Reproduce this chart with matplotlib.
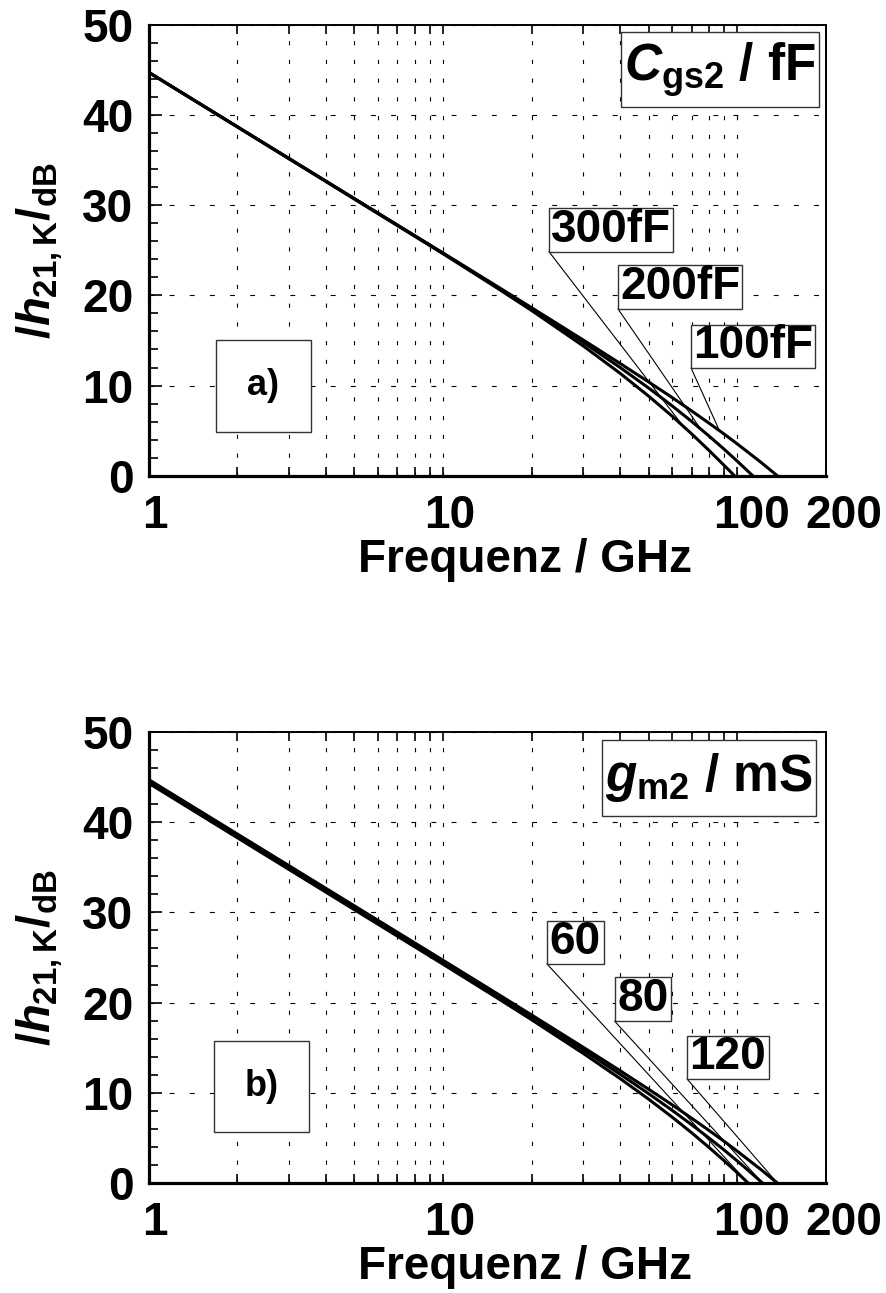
import numpy as np
import matplotlib
matplotlib.use('Agg')
import matplotlib.pyplot as plt
from matplotlib.patches import Rectangle
from matplotlib.ticker import FixedLocator, NullFormatter, MultipleLocator
import matplotlib.transforms as mtransforms

plt.rcParams['font.family'] = ['Liberation Sans', 'DejaVu Sans']
plt.rcParams['font.weight'] = 'bold'
plt.rcParams['mathtext.fontset'] = 'custom'
plt.rcParams['mathtext.rm'] = 'Liberation Sans:bold'
plt.rcParams['mathtext.it'] = 'Liberation Sans:bold:italic'
plt.rcParams['mathtext.bf'] = 'Liberation Sans:bold'
plt.rcParams['lines.scale_dashes'] = False

# panel a) : Cgs2 variation  (|h21| in dB vs GHz)
f_300 = [1, 10, 15, 20, 30, 40, 50, 60, 70, 80, 90, 98]
h_300 = [44.7, 24.61, 20.97, 18.32, 14.38, 11.36, 8.83, 6.63, 4.65, 2.85, 1.2, 0.0]
f_200 = [1, 10, 15, 20, 30, 40, 50, 60, 70, 80, 90, 100, 113]
h_200 = [44.7, 24.66, 21.08, 18.5, 14.78, 12.0, 9.73, 7.77, 6.03, 4.44, 2.99, 1.63, 0.0]
f_100 = [1, 10, 15, 20, 30, 40, 50, 60, 70, 80, 90, 100, 120, 137]
h_100 = [44.7, 24.69, 21.15, 18.63, 15.04, 12.45, 10.4, 8.69, 7.19, 5.86, 4.66, 3.54, 1.54, 0.0]

# panel b) : gm2 variation
f_60 = [1, 10, 15, 20, 30, 40, 50, 60, 70, 80, 90, 100, 109]
h_60 = [44.3, 24.25, 20.68, 18.1, 14.36, 11.58, 9.3, 7.33, 5.58, 3.98, 2.52, 1.15, 0.0]
f_80 = [1, 10, 15, 20, 30, 40, 50, 60, 70, 80, 90, 100, 110, 122]
h_80 = [44.5, 24.47, 20.92, 18.38, 14.73, 12.06, 9.91, 8.08, 6.47, 5.02, 3.7, 2.46, 1.3, 0.0]
f_120 = [1, 10, 15, 20, 30, 40, 50, 60, 70, 80, 90, 100, 120, 137]
h_120 = [44.7, 24.69, 21.15, 18.63, 15.04, 12.45, 10.4, 8.69, 7.19, 5.86, 4.66, 3.54, 1.54, 0.0]

labels_a = ['300fF', '200fF', '100fF']
labels_b = ['60', '80', '120']

x_major = [1, 10, 100, 200]
x_major_labels = ['1', '10', '100', '200']
x_minor = [2, 3, 4, 5, 6, 7, 8, 9, 20, 30, 40, 50, 60, 70, 80, 90]


def f_at(f, h, level):
    # frequency where a curve reaches a given level (log interpolation)
    return 10 ** np.interp(level, h[::-1], np.log10(f)[::-1])


def setup_axes(ax):
    ax.set_xscale('log')
    ax.set_xlim(1, 200)
    ax.set_ylim(0, 50)
    ax.xaxis.set_major_locator(FixedLocator(x_major))
    ax.set_xticklabels(x_major_labels)
    ax.xaxis.set_minor_locator(FixedLocator(x_minor))
    ax.xaxis.set_minor_formatter(NullFormatter())
    ax.yaxis.set_major_locator(MultipleLocator(10))
    ax.yaxis.set_minor_locator(MultipleLocator(2))
    ax.tick_params(axis='x', which='both', direction='in', top=True, bottom=True,
                   length=6.5, width=1.2, labelsize=33, pad=13)
    ax.tick_params(axis='y', which='major', direction='in', left=True, right=False,
                   length=9, width=1.2, labelsize=33, pad=11)
    ax.tick_params(axis='y', which='minor', direction='in', left=True, right=False,
                   length=6.5, width=1.2)
    for lab in ax.get_xticklabels() + ax.get_yticklabels():
        lab.set_fontweight('bold')
    # nudge the x tick labels like in the original
    offs = {'1': 6, '10': 7, '100': 14, '200': 18}
    for lab in ax.get_xticklabels():
        dx = offs.get(lab.get_text(), 0)
        lab.set_transform(lab.get_transform() +
                          mtransforms.ScaledTranslation(dx / 100, 0, ax.figure.dpi_scale_trans))
    ax.xaxis.grid(True, which='both', linestyle=(0, (3, 10.5)), color='black', lw=0.8)
    ax.yaxis.grid(True, which='major', linestyle=(0, (3.5, 11)), color='black', lw=0.8)
    ax.spines['left'].set_linewidth(2.3)
    ax.spines['bottom'].set_linewidth(2.3)
    ax.spines['top'].set_linewidth(1.4)
    ax.spines['right'].set_linewidth(1.4)
    ax.set_xlabel('Frequenz / GHz', fontsize=33, fontweight='bold')
    ax.xaxis.set_label_coords(0.555, -0.138)
    ax.xaxis.label.set_va('top')
    ax.set_ylabel(r'$\mathit{/h}_{\mathrm{21,K}}\mathit{/}_{\mathrm{dB}}$', fontsize=34)
    ax.yaxis.set_label_coords(-0.161, 0.5)
    ax.yaxis.label.set_va('center')


def box_text(ax, x0, y0, x1, y1, text, size):
    ax.add_patch(Rectangle((x0, y0), x1 - x0, y1 - y0, transform=ax.transAxes,
                           facecolor='white', edgecolor='#333333', lw=1.0, zorder=5))
    ax.text((x0 + x1) / 2, (y0 + y1) / 2, text, transform=ax.transAxes, ha='center',
            va='center', fontsize=size, fontweight='bold', zorder=6)


def leader(ax, x0, y0, f, h):
    ax.annotate('', xy=(f, h), xycoords='data', xytext=(x0, y0), textcoords='axes fraction',
                arrowprops=dict(arrowstyle='-', lw=0.8, color='black', shrinkA=0, shrinkB=0),
                zorder=4)


fig = plt.figure(figsize=(8.86, 12.93), dpi=100)
ax1 = fig.add_axes([0.168, 0.632, 0.764, 0.349])
ax2 = fig.add_axes([0.168, 0.085, 0.764, 0.349])

# ---- panel a)
setup_axes(ax1)
curves_a = [(f_300, h_300), (f_200, h_200), (f_100, h_100)]
for f, h in curves_a:
    ax1.plot(f, h, color='black', lw=2.2, zorder=3)

box_text(ax1, 0.697, 0.818, 0.990, 0.984, r'$\mathit{C}_{\mathrm{gs2}}$ / fF', 37)
box_text(ax1, 0.099, 0.098, 0.239, 0.302, 'a)', 26)
box_a = [(0.591, 0.497, 0.775, 0.594), (0.693, 0.370, 0.877, 0.468), (0.801, 0.239, 0.984, 0.335)]
lvl_a = [5.5, 5.2, 5.0]
for (x0, y0, x1, y1), lab, (f, h), lv in zip(box_a, labels_a, curves_a, lvl_a):
    leader(ax1, x0, y0, f_at(np.array(f), np.array(h), lv), lv)
    box_text(ax1, x0, y0, x1, y1, lab, 33)

# ---- panel b)
setup_axes(ax2)
curves_b = [(f_60, h_60), (f_80, h_80), (f_120, h_120)]
for f, h in curves_b:
    ax2.plot(f, h, color='black', lw=2.2, zorder=3)

box_text(ax2, 0.670, 0.814, 0.985, 0.982, r'$\mathit{g}_{\mathrm{m2}}$ / mS', 37)
box_text(ax2, 0.096, 0.113, 0.236, 0.315, 'b)', 26)
box_b = [(0.588, 0.486, 0.672, 0.581), (0.688, 0.359, 0.771, 0.457), (0.795, 0.231, 0.916, 0.326)]
for (x0, y0, x1, y1), lab, (f, h) in zip(box_b, labels_b, curves_b):
    leader(ax2, x0, y0, f[-1], h[-1])
    box_text(ax2, x0, y0, x1, y1, lab, 33)

fig.savefig('out.png', dpi=100)
